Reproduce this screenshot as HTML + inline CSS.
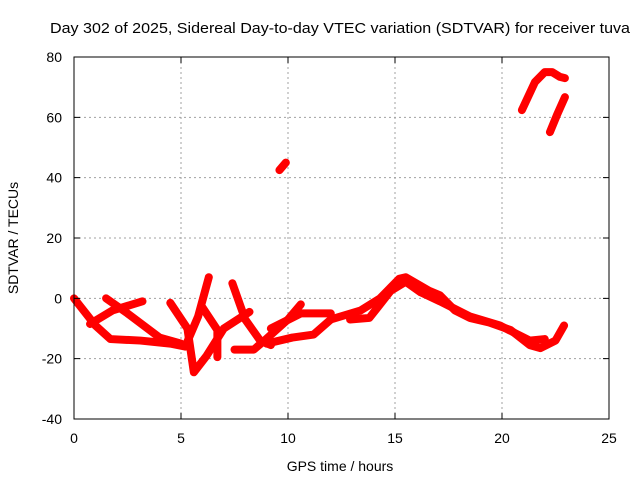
<!DOCTYPE html>
<html><head><meta charset="utf-8"><style>
body{margin:0;background:#fff;}
svg{display:block;font-family:"Liberation Sans",sans-serif;}
</style></head><body>
<svg id="chart" width="640" height="480">
<text x="340" y="33" font-size="15" text-anchor="middle" textLength="580" lengthAdjust="spacingAndGlyphs">Day 302 of 2025, Sidereal Day-to-day VTEC variation (SDTVAR) for receiver tuva</text>
<g id="grid"></g>
<g id="series"></g>
<rect x="74" y="57" width="535" height="362" fill="none" stroke="#000" stroke-width="1"/>
<g id="ticks"></g>
<text x="340" y="471" font-size="14" text-anchor="middle">GPS time / hours</text>
<text transform="translate(18,238) rotate(-90)" font-size="14" text-anchor="middle">SDTVAR / TECUs</text>
</svg>
<script>
const xTicks=[0,5,10,15,20,25];
const yTicks=[-40,-20,0,20,40,60,80];
const seriesA=[[0,0],[1,-9],[1.7,-13.5],[3.1,-14],[4.5,-15],[5.2,-16],[5.8,-6],[6.3,7]];
const seriesB=[[0.75,-8.5],[1.8,-4],[3.2,-1]];
const seriesC=[[1.5,0],[2.5,-5],[4,-13],[5,-15]];
const seriesD=[[4.5,-1.5],[5.3,-10],[5.6,-24.5],[6.2,-19],[7,-10],[8.2,-4.5]];
const seriesE=[[6,-3],[6.7,-10.5],[6.7,-19.5]];
const seriesF=[[7.4,5],[8,-7],[8.7,-14],[9.2,-15.5]];
const seriesG=[[7.5,-17],[8.4,-17],[8.9,-14],[10,-7],[10.6,-2]];
const seriesH=[[9.2,-10],[10.6,-5],[12,-5]];
const seriesI=[[9,-15],[10.2,-13],[11.2,-12],[12,-7],[13.4,-4],[14.3,0],[15.2,6.5],[15.5,7],[16.6,2.5],[17.1,1],[17.8,-4],[18.5,-6.5],[19.4,-8],[20.4,-10.5],[21.3,-15.5],[21.8,-16.5],[22.5,-14],[22.9,-9]];
const seriesJ=[[12.9,-7],[13.8,-6.5],[14.8,2.5],[15.5,5.5],[16.2,2],[17.1,-1],[18.5,-6],[19.9,-9],[21.3,-14],[22,-13.5]];
const seriesK=[[9.6,42.5],[9.9,45]];
const seriesL=[[20.93,62.4],[21.54,71.7],[22.0,75],[22.34,75],[22.71,73.4],[22.94,73]];
const seriesM=[[22.24,55.1],[22.57,60.8],[22.94,66.7]];
const allSeries=[seriesA,seriesB,seriesC,seriesD,seriesE,seriesF,seriesG,seriesH,seriesI,seriesJ,seriesK,seriesL,seriesM];
const X0=74,X1=609,Y0=419,Y1=57;
function xs(v){return X0+(v-0)/(25-0)*(X1-X0);}
function ys(v){return Y0-(v+40)/(120)*(Y0-Y1);}
const NS="http://www.w3.org/2000/svg";
const grid=document.getElementById('grid'),ticks=document.getElementById('ticks'),ser=document.getElementById('series');
function mk(tag,attrs,parent){const e=document.createElementNS(NS,tag);for(const k in attrs)e.setAttribute(k,attrs[k]);parent.appendChild(e);return e;}
xTicks.forEach(t=>{
  const x=xs(t);
  if(t>0&&t<25){const g=mk('line',{x1:x,x2:x,y1:Y1,y2:Y0,stroke:'#a0a0a0','stroke-dasharray':'2,3'},grid);
  
  }
  const tk=mk('path',{d:`M${x},${Y0}v-6M${x},${Y1}v6`,stroke:'#000'},ticks);
  
  
  const l=mk('text',{x:x,y:443,'font-size':14,'text-anchor':'middle'},ticks);l.textContent=t;
  
  
});
yTicks.forEach(t=>{
  const y=ys(t);
  if(t>-40&&t<80){const g=mk('line',{x1:X0,x2:X1,y1:y,y2:y,stroke:'#a0a0a0','stroke-dasharray':'2,3'},grid);
  
  }
  const tk=mk('path',{d:`M${X0},${y}h6M${X1},${y}h-6`,stroke:'#000'},ticks);
  
  
  const l=mk('text',{x:62,y:y+5,'font-size':14,'text-anchor':'end'},ticks);l.textContent=t;
  
  
});
allSeries.forEach((s,i)=>{
  const p=mk('polyline',{points:s.map(d=>xs(d[0])+','+ys(d[1])).join(' '),fill:'none',stroke:'#ff0000','stroke-width':8,'stroke-linejoin':'round','stroke-linecap':'round'},ser);
  
  
});
</script>
</body></html>
